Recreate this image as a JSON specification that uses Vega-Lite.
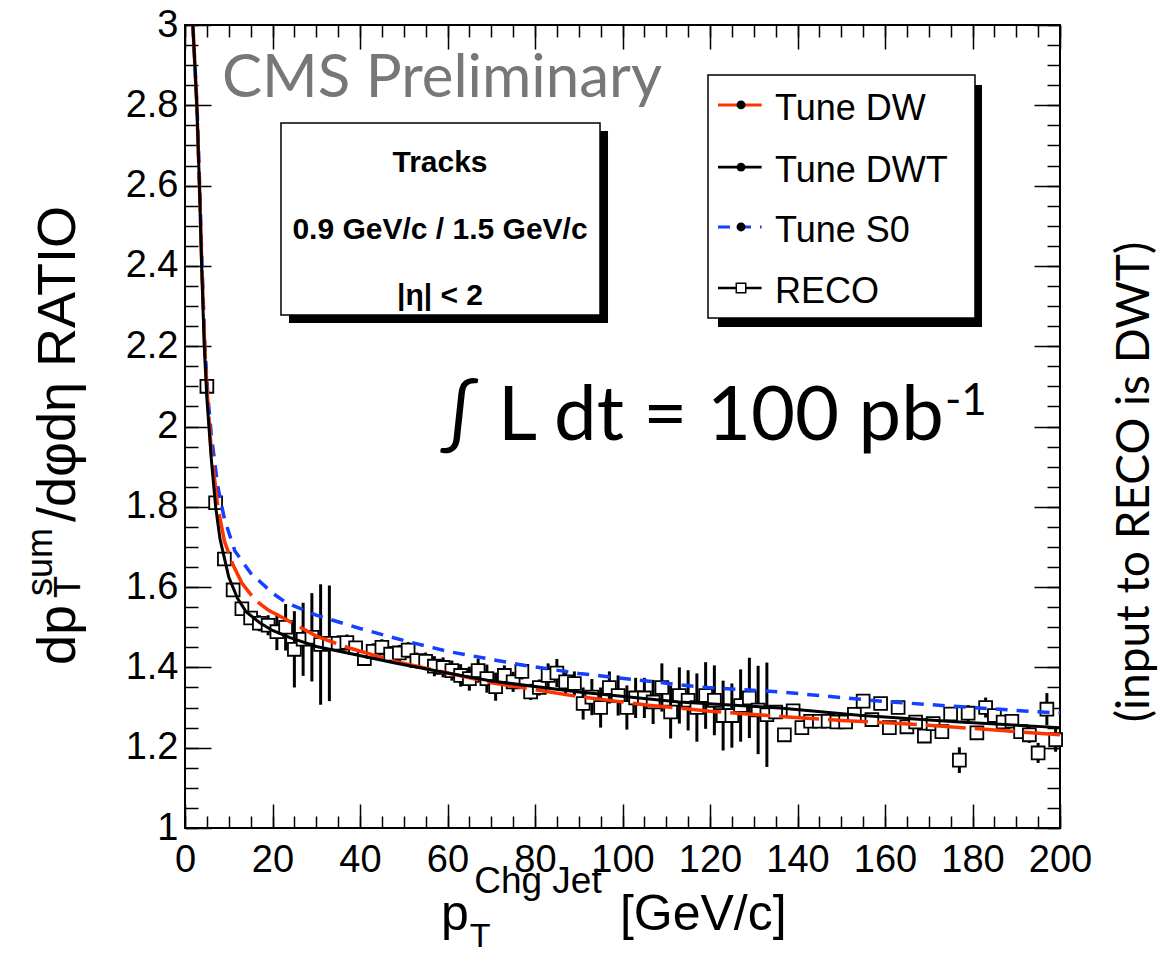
{
  "$schema": "https://vega.github.io/schema/vega-lite/v6.json",
  "width": 875,
  "height": 803,
  "autosize": {"type": "none"},
  "padding": {"left": 185, "top": 25, "right": 108, "bottom": 125},
  "background": "white",
  "config": {
    "view": {"stroke": "black", "strokeWidth": 2},
    "axis": {"grid": false, "domain": false, "tickColor": "black", "tickWidth": 1.5, "labelFont": "Liberation Sans", "labelFontSize": 38, "labelColor": "black", "title": null}
  },
  "datasets": {
    "one": [{}],
    "reco": [
      {"x":5,"y":2.10,"lo":2.09,"hi":2.11},{"x":7,"y":1.81,"lo":1.80,"hi":1.82},{"x":9,"y":1.67,"lo":1.66,"hi":1.68},
      {"x":11,"y":1.593,"lo":1.581,"hi":1.605},{"x":13,"y":1.546,"lo":1.531,"hi":1.561},{"x":15,"y":1.523,"lo":1.508,"hi":1.538},
      {"x":17,"y":1.51,"lo":1.49,"hi":1.53},{"x":19,"y":1.505,"lo":1.48,"hi":1.53},{"x":21,"y":1.489,"lo":1.443,"hi":1.535},
      {"x":23,"y":1.50,"lo":1.442,"hi":1.558},{"x":25,"y":1.445,"lo":1.35,"hi":1.54},{"x":27,"y":1.47,"lo":1.379,"hi":1.561},
      {"x":29,"y":1.475,"lo":1.365,"hi":1.585},{"x":31,"y":1.457,"lo":1.307,"hi":1.607},{"x":33,"y":1.46,"lo":1.316,"hi":1.604},
      {"x":35,"y":1.46,"lo":1.44,"hi":1.48},{"x":37,"y":1.462,"lo":1.442,"hi":1.482},{"x":39,"y":1.449,"lo":1.434,"hi":1.464},
      {"x":41,"y":1.422,"lo":1.407,"hi":1.437},{"x":43,"y":1.44,"lo":1.42,"hi":1.46},{"x":45,"y":1.45,"lo":1.43,"hi":1.47},
      {"x":47,"y":1.433,"lo":1.413,"hi":1.453},{"x":49,"y":1.436,"lo":1.416,"hi":1.456},{"x":51,"y":1.443,"lo":1.423,"hi":1.463},
      {"x":53,"y":1.417,"lo":1.397,"hi":1.437},{"x":55,"y":1.415,"lo":1.393,"hi":1.437},{"x":57,"y":1.403,"lo":1.378,"hi":1.428},
      {"x":59,"y":1.40,"lo":1.375,"hi":1.425},{"x":61,"y":1.392,"lo":1.367,"hi":1.417},{"x":63,"y":1.38,"lo":1.352,"hi":1.408},
      {"x":65,"y":1.372,"lo":1.342,"hi":1.402},{"x":67,"y":1.392,"lo":1.362,"hi":1.422},{"x":69,"y":1.372,"lo":1.337,"hi":1.407},
      {"x":71,"y":1.352,"lo":1.317,"hi":1.387},{"x":73,"y":1.38,"lo":1.355,"hi":1.405},{"x":75,"y":1.364,"lo":1.339,"hi":1.389},
      {"x":77,"y":1.39,"lo":1.37,"hi":1.41},{"x":79,"y":1.339,"lo":1.319,"hi":1.359},{"x":81,"y":1.35,"lo":1.33,"hi":1.37},
      {"x":83,"y":1.38,"lo":1.35,"hi":1.41},{"x":85,"y":1.386,"lo":1.351,"hi":1.421},{"x":87,"y":1.364,"lo":1.334,"hi":1.394},
      {"x":89,"y":1.36,"lo":1.33,"hi":1.39},{"x":91,"y":1.31,"lo":1.27,"hi":1.35},{"x":93,"y":1.326,"lo":1.281,"hi":1.371},
      {"x":95,"y":1.30,"lo":1.25,"hi":1.35},{"x":97,"y":1.35,"lo":1.31,"hi":1.39},{"x":99,"y":1.33,"lo":1.28,"hi":1.38},
      {"x":101,"y":1.30,"lo":1.245,"hi":1.355},{"x":103,"y":1.324,"lo":1.274,"hi":1.374},{"x":105,"y":1.324,"lo":1.274,"hi":1.374},
      {"x":107,"y":1.314,"lo":1.259,"hi":1.369},{"x":109,"y":1.35,"lo":1.29,"hi":1.41},{"x":111,"y":1.289,"lo":1.223,"hi":1.355},
      {"x":113,"y":1.33,"lo":1.26,"hi":1.40},{"x":115,"y":1.318,"lo":1.243,"hi":1.393},{"x":117,"y":1.30,"lo":1.215,"hi":1.385},
      {"x":119,"y":1.33,"lo":1.247,"hi":1.413},{"x":121,"y":1.318,"lo":1.231,"hi":1.405},{"x":123,"y":1.28,"lo":1.193,"hi":1.367},
      {"x":125,"y":1.28,"lo":1.20,"hi":1.36},{"x":127,"y":1.305,"lo":1.215,"hi":1.395},{"x":129,"y":1.324,"lo":1.224,"hi":1.424},
      {"x":131,"y":1.294,"lo":1.184,"hi":1.404},{"x":133,"y":1.282,"lo":1.152,"hi":1.412},{"x":135,"y":1.289,"lo":1.274,"hi":1.304},
      {"x":137,"y":1.232,"lo":1.222,"hi":1.242},{"x":139,"y":1.292,"lo":1.282,"hi":1.302},{"x":141,"y":1.25,"lo":1.24,"hi":1.26},
      {"x":143,"y":1.266,"lo":1.256,"hi":1.276},{"x":145,"y":1.266,"lo":1.256,"hi":1.276},{"x":147,"y":1.266,"lo":1.256,"hi":1.276},
      {"x":149,"y":1.264,"lo":1.254,"hi":1.274},{"x":151,"y":1.264,"lo":1.254,"hi":1.274},{"x":153,"y":1.283,"lo":1.271,"hi":1.295},
      {"x":155,"y":1.316,"lo":1.301,"hi":1.331},{"x":157,"y":1.27,"lo":1.258,"hi":1.282},{"x":159,"y":1.31,"lo":1.298,"hi":1.322},
      {"x":161,"y":1.25,"lo":1.238,"hi":1.262},{"x":163,"y":1.30,"lo":1.288,"hi":1.312},{"x":165,"y":1.252,"lo":1.237,"hi":1.267},
      {"x":167,"y":1.264,"lo":1.249,"hi":1.279},{"x":169,"y":1.229,"lo":1.214,"hi":1.244},{"x":171,"y":1.26,"lo":1.245,"hi":1.275},
      {"x":173,"y":1.24,"lo":1.225,"hi":1.255},{"x":175,"y":1.284,"lo":1.269,"hi":1.299},{"x":177,"y":1.169,"lo":1.137,"hi":1.201},
      {"x":179,"y":1.286,"lo":1.266,"hi":1.306},{"x":181,"y":1.237,"lo":1.222,"hi":1.252},{"x":183,"y":1.30,"lo":1.275,"hi":1.325},
      {"x":185,"y":1.28,"lo":1.265,"hi":1.295},{"x":187,"y":1.264,"lo":1.249,"hi":1.279},{"x":189,"y":1.266,"lo":1.251,"hi":1.281},
      {"x":191,"y":1.24,"lo":1.225,"hi":1.255},{"x":193,"y":1.232,"lo":1.212,"hi":1.252},{"x":195,"y":1.187,"lo":1.162,"hi":1.212},
      {"x":197,"y":1.296,"lo":1.256,"hi":1.336},{"x":199,"y":1.22,"lo":1.19,"hi":1.25}
    ],
    "dwt": [
      {"x":1.8,"y":3.0},{"x":2.7,"y":2.8},{"x":3.3,"y":2.6},{"x":3.8,"y":2.4},{"x":4.4,"y":2.2},{"x":5,"y":2.07},{"x":6,"y":1.92},
      {"x":7,"y":1.8},{"x":8,"y":1.72},{"x":10,"y":1.625},{"x":12,"y":1.572},{"x":14,"y":1.538},{"x":17,"y":1.512},{"x":20,"y":1.492},
      {"x":24,"y":1.474},{"x":30,"y":1.452},{"x":38,"y":1.434},{"x":48,"y":1.411},{"x":60,"y":1.386},{"x":70,"y":1.366},{"x":90,"y":1.339},
      {"x":113,"y":1.314},{"x":136,"y":1.299},{"x":154,"y":1.281},{"x":177,"y":1.264},{"x":200,"y":1.25}
    ],
    "dw": [
      {"x":1.8,"y":3.0},{"x":2.7,"y":2.8},{"x":3.3,"y":2.6},{"x":3.85,"y":2.4},{"x":4.5,"y":2.2},{"x":5.1,"y":2.08},{"x":6,"y":1.94},
      {"x":7.5,"y":1.8},{"x":9,"y":1.715},{"x":11,"y":1.655},{"x":13,"y":1.61},{"x":16,"y":1.568},{"x":19,"y":1.543},{"x":23,"y":1.52},
      {"x":30,"y":1.478},{"x":34,"y":1.462},{"x":38,"y":1.447},{"x":48,"y":1.415},{"x":60,"y":1.386},{"x":70,"y":1.362},{"x":90,"y":1.327},
      {"x":106,"y":1.306},{"x":120,"y":1.291},{"x":136,"y":1.278},{"x":150,"y":1.268},{"x":170,"y":1.256},{"x":200,"y":1.232}
    ],
    "s0": [
      {"x":1.8,"y":3.0},{"x":2.75,"y":2.8},{"x":3.35,"y":2.6},{"x":3.9,"y":2.4},{"x":4.55,"y":2.2},{"x":5.2,"y":2.08},{"x":6,"y":1.98},
      {"x":7.5,"y":1.85},{"x":9,"y":1.77},{"x":11.4,"y":1.69},{"x":15,"y":1.635},{"x":20,"y":1.585},{"x":23,"y":1.562},{"x":30,"y":1.53},
      {"x":40,"y":1.497},{"x":50,"y":1.467},{"x":60,"y":1.44},{"x":71,"y":1.418},{"x":77,"y":1.406},{"x":90,"y":1.385},{"x":99,"y":1.374},
      {"x":118,"y":1.351},{"x":136,"y":1.339},{"x":160,"y":1.315},{"x":180,"y":1.30},{"x":200,"y":1.286}
    ]
  },
  "layer": [
    {
      "data": {"name": "reco"},
      "mark": {"type": "rule", "color": "black", "strokeWidth": 3},
      "encoding": {
        "x": {"field": "x", "type": "quantitative", "scale": {"domain": [0, 200], "nice": false, "zero": false},
              "axis": {"orient": "bottom", "values": [0,20,40,60,80,100,120,140,160,180,200], "tickSize": -24, "labelPadding": 37, "labelFlush": false}},
        "y": {"field": "lo", "type": "quantitative", "scale": {"domain": [1, 3], "nice": false, "zero": false},
              "axis": {"orient": "left", "values": [1,1.2,1.4,1.6,1.8,2,2.2,2.4,2.6,2.8,3], "tickSize": -26, "labelPadding": 33, "format": "~g", "labelFlush": false}},
        "y2": {"field": "hi"}
      }
    },
    {
      "data": {"name": "reco"},
      "mark": {"type": "point", "shape": "square", "size": 165, "filled": true, "fill": "white", "stroke": "black", "strokeWidth": 1.8, "opacity": 1},
      "encoding": {
        "x": {"field": "x", "type": "quantitative",
              "axis": {"orient": "bottom", "values": [0,5,10,15,20,25,30,35,40,45,50,55,60,65,70,75,80,85,90,95,100,105,110,115,120,125,130,135,140,145,150,155,160,165,170,175,180,185,190,195,200], "tickSize": -12, "labels": false}},
        "y": {"field": "y", "type": "quantitative",
              "axis": {"orient": "left", "values": [1,1.05,1.1,1.15,1.2,1.25,1.3,1.35,1.4,1.45,1.5,1.55,1.6,1.65,1.7,1.75,1.8,1.85,1.9,1.95,2,2.05,2.1,2.15,2.2,2.25,2.3,2.35,2.4,2.45,2.5,2.55,2.6,2.65,2.7,2.75,2.8,2.85,2.9,2.95,3], "tickSize": -13, "labels": false}}
      }
    },
    {
      "data": {"name": "s0"},
      "mark": {"type": "line", "color": "#1440ff", "strokeWidth": 3.5, "strokeDash": [12, 9]},
      "encoding": {
        "x": {"field": "x", "type": "quantitative",
              "axis": {"orient": "top", "values": [0,20,40,60,80,100,120,140,160,180,200], "tickSize": -24, "labels": false}},
        "y": {"field": "y", "type": "quantitative",
              "axis": {"orient": "right", "values": [1,1.2,1.4,1.6,1.8,2,2.2,2.4,2.6,2.8,3], "tickSize": -26, "labels": false}}
      }
    },
    {
      "data": {"name": "dw"},
      "mark": {"type": "line", "color": "#ff3300", "strokeWidth": 3.5, "strokeDash": [40, 9]},
      "encoding": {
        "x": {"field": "x", "type": "quantitative",
              "axis": {"orient": "top", "values": [0,5,10,15,20,25,30,35,40,45,50,55,60,65,70,75,80,85,90,95,100,105,110,115,120,125,130,135,140,145,150,155,160,165,170,175,180,185,190,195,200], "tickSize": -12, "labels": false}},
        "y": {"field": "y", "type": "quantitative",
              "axis": {"orient": "right", "values": [1,1.05,1.1,1.15,1.2,1.25,1.3,1.35,1.4,1.45,1.5,1.55,1.6,1.65,1.7,1.75,1.8,1.85,1.9,1.95,2,2.05,2.1,2.15,2.2,2.25,2.3,2.35,2.4,2.45,2.5,2.55,2.6,2.65,2.7,2.75,2.8,2.85,2.9,2.95,3], "tickSize": -13, "labels": false}}
      }
    },
    {
      "data": {"name": "dwt"},
      "mark": {"type": "line", "color": "black", "strokeWidth": 3},
      "encoding": {
        "x": {"field": "x", "type": "quantitative", "axis": null},
        "y": {"field": "y", "type": "quantitative", "axis": null}
      }
    },
    {
      "data": {"name": "one"},
      "mark": {"type": "text", "text": "CMS Preliminary", "font": "Lato", "fontSize": 60, "color": "#777777", "align": "left", "baseline": "alphabetic"},
      "encoding": {"x": {"datum": 8.46, "axis": null}, "y": {"datum": 2.8207, "axis": null}}
    },
    {
      "data": {"name": "one"},
      "mark": {"type": "rect", "color": "black"},
      "encoding": {"x": {"datum": 23.77, "axis": null}, "x2": {"datum": 96.69}, "y": {"datum": 2.736, "axis": null}, "y2": {"datum": 2.2578}}
    },
    {
      "data": {"name": "one"},
      "mark": {"type": "rect", "fill": "white", "stroke": "black", "strokeWidth": 1.5},
      "encoding": {"x": {"datum": 21.94, "axis": null}, "x2": {"datum": 94.86}, "y": {"datum": 2.7559, "axis": null}, "y2": {"datum": 2.2777}}
    },
    {
      "data": {"name": "one"},
      "mark": {"type": "text", "text": "Tracks", "font": "Liberation Sans", "fontWeight": "bold", "fontSize": 30, "color": "black", "align": "center", "baseline": "middle"},
      "encoding": {"x": {"datum": 58.29, "axis": null}, "y": {"datum": 2.6563, "axis": null}}
    },
    {
      "data": {"name": "one"},
      "mark": {"type": "text", "text": "0.9 GeV/c / 1.5 GeV/c", "font": "Liberation Sans", "fontWeight": "bold", "fontSize": 30, "color": "black", "align": "center", "baseline": "middle"},
      "encoding": {"x": {"datum": 58.29, "axis": null}, "y": {"datum": 2.4894, "axis": null}}
    },
    {
      "data": {"name": "one"},
      "mark": {"type": "text", "text": "|η| < 2", "font": "Liberation Sans", "fontWeight": "bold", "fontSize": 30, "color": "black", "align": "center", "baseline": "middle"},
      "encoding": {"x": {"datum": 58.29, "axis": null}, "y": {"datum": 2.325, "axis": null}}
    },
    {
      "data": {"name": "one"},
      "mark": {"type": "rect", "color": "black"},
      "encoding": {"x": {"datum": 121.83, "axis": null}, "x2": {"datum": 182.17}, "y": {"datum": 2.8506, "axis": null}, "y2": {"datum": 2.2478}}
    },
    {
      "data": {"name": "one"},
      "mark": {"type": "rect", "fill": "white", "stroke": "black", "strokeWidth": 1.5},
      "encoding": {"x": {"datum": 119.54, "axis": null}, "x2": {"datum": 180.57}, "y": {"datum": 2.8755, "axis": null}, "y2": {"datum": 2.2702}}
    },
    {
      "data": {"name": "one"},
      "mark": {"type": "rule", "color": "#ff3300", "strokeWidth": 3},
      "encoding": {"x": {"datum": 121.83, "axis": null}, "x2": {"datum": 131.8}, "y": {"datum": 2.801, "axis": null}}
    },
    {
      "data": {"name": "one"},
      "mark": {"type": "rule", "color": "black", "strokeWidth": 2.6},
      "encoding": {"x": {"datum": 121.83, "axis": null}, "x2": {"datum": 131.8}, "y": {"datum": 2.646, "axis": null}}
    },
    {
      "data": {"name": "one"},
      "mark": {"type": "rule", "color": "#1440ff", "strokeWidth": 3, "strokeDash": [12, 9]},
      "encoding": {"x": {"datum": 121.83, "axis": null}, "x2": {"datum": 131.8}, "y": {"datum": 2.497, "axis": null}}
    },
    {
      "data": {"name": "one"},
      "mark": {"type": "rule", "color": "black", "strokeWidth": 2.6},
      "encoding": {"x": {"datum": 121.83, "axis": null}, "x2": {"datum": 131.8}, "y": {"datum": 2.345, "axis": null}}
    },
    {
      "data": {"name": "one"},
      "mark": {"type": "point", "shape": "circle", "size": 80, "filled": true, "color": "black", "opacity": 1},
      "encoding": {"x": {"datum": 127.09, "axis": null}, "y": {"datum": 2.801, "axis": null}}
    },
    {
      "data": {"name": "one"},
      "mark": {"type": "point", "shape": "circle", "size": 80, "filled": true, "color": "black", "opacity": 1},
      "encoding": {"x": {"datum": 127.09, "axis": null}, "y": {"datum": 2.646, "axis": null}}
    },
    {
      "data": {"name": "one"},
      "mark": {"type": "point", "shape": "circle", "size": 80, "filled": true, "color": "black", "opacity": 1},
      "encoding": {"x": {"datum": 127.09, "axis": null}, "y": {"datum": 2.497, "axis": null}}
    },
    {
      "data": {"name": "one"},
      "mark": {"type": "point", "shape": "square", "size": 90, "filled": true, "fill": "white", "stroke": "black", "strokeWidth": 1.5, "opacity": 1},
      "encoding": {"x": {"datum": 127.09, "axis": null}, "y": {"datum": 2.345, "axis": null}}
    },
    {
      "data": {"name": "one"},
      "mark": {"type": "text", "text": "Tune DW", "font": "Liberation Sans", "fontSize": 36, "color": "black", "align": "left", "baseline": "middle", "dy": 4},
      "encoding": {"x": {"datum": 134.86, "axis": null}, "y": {"datum": 2.801, "axis": null}}
    },
    {
      "data": {"name": "one"},
      "mark": {"type": "text", "text": "Tune DWT", "font": "Liberation Sans", "fontSize": 36, "color": "black", "align": "left", "baseline": "middle", "dy": 4},
      "encoding": {"x": {"datum": 134.86, "axis": null}, "y": {"datum": 2.646, "axis": null}}
    },
    {
      "data": {"name": "one"},
      "mark": {"type": "text", "text": "Tune S0", "font": "Liberation Sans", "fontSize": 36, "color": "black", "align": "left", "baseline": "middle", "dy": 4},
      "encoding": {"x": {"datum": 134.86, "axis": null}, "y": {"datum": 2.497, "axis": null}}
    },
    {
      "data": {"name": "one"},
      "mark": {"type": "text", "text": "RECO", "font": "Liberation Sans", "fontSize": 36, "color": "black", "align": "left", "baseline": "middle", "dy": 4},
      "encoding": {"x": {"datum": 134.86, "axis": null}, "y": {"datum": 2.345, "axis": null}}
    },
    {
      "data": {"name": "one"},
      "mark": {"type": "text", "text": "∫ L dt = 100 pb", "font": "Lato", "fontSize": 76, "color": "black", "align": "left", "baseline": "alphabetic"},
      "encoding": {"x": {"datum": 58.29, "axis": null}, "y": {"datum": 1.9664, "axis": null}}
    },
    {
      "data": {"name": "one"},
      "mark": {"type": "text", "text": "-1", "font": "Lato", "fontSize": 44, "color": "black", "align": "left", "baseline": "alphabetic"},
      "encoding": {"x": {"datum": 173.7, "axis": null}, "y": {"datum": 2.0286, "axis": null}}
    },
    {
      "data": {"name": "one"},
      "mark": {"type": "text", "text": "(input to RECO is DWT)", "font": "Lato", "fontSize": 46, "color": "black", "align": "center", "baseline": "middle", "angle": 270},
      "encoding": {"x": {"datum": 217.14, "axis": null}, "y": {"datum": 1.8618, "axis": null}}
    },
    {
      "data": {"name": "one"},
      "mark": {"type": "text", "text": "p", "font": "Liberation Sans", "fontSize": 50, "color": "black", "align": "left", "baseline": "alphabetic"},
      "encoding": {"x": {"datum": 58.5, "axis": null}, "y": {"datum": 0.745, "axis": null}}
    },
    {
      "data": {"name": "one"},
      "mark": {"type": "text", "text": "T", "font": "Liberation Sans", "fontSize": 34, "color": "black", "align": "left", "baseline": "alphabetic"},
      "encoding": {"x": {"datum": 65.1, "axis": null}, "y": {"datum": 0.703, "axis": null}}
    },
    {
      "data": {"name": "one"},
      "mark": {"type": "text", "text": "Chg Jet", "font": "Liberation Sans", "fontSize": 37, "color": "black", "align": "left", "baseline": "alphabetic"},
      "encoding": {"x": {"datum": 66.1, "axis": null}, "y": {"datum": 0.838, "axis": null}}
    },
    {
      "data": {"name": "one"},
      "mark": {"type": "text", "text": "[GeV/c]", "font": "Liberation Sans", "fontSize": 50, "color": "black", "align": "left", "baseline": "alphabetic"},
      "encoding": {"x": {"datum": 99.4, "axis": null}, "y": {"datum": 0.745, "axis": null}}
    },
    {
      "data": {"name": "one"},
      "mark": {"type": "text", "text": "dp", "font": "Liberation Sans", "fontSize": 54, "color": "black", "align": "left", "baseline": "alphabetic", "angle": 270},
      "encoding": {"x": {"datum": -25.14, "axis": null}, "y": {"datum": 1.406, "axis": null}}
    },
    {
      "data": {"name": "one"},
      "mark": {"type": "text", "text": "T", "font": "Liberation Sans", "fontSize": 36, "color": "black", "align": "left", "baseline": "alphabetic", "angle": 270},
      "encoding": {"x": {"datum": -24.0, "axis": null}, "y": {"datum": 1.573, "axis": null}}
    },
    {
      "data": {"name": "one"},
      "mark": {"type": "text", "text": "sum", "font": "Liberation Sans", "fontSize": 36, "color": "black", "align": "left", "baseline": "alphabetic", "angle": 270},
      "encoding": {"x": {"datum": -30.4, "axis": null}, "y": {"datum": 1.578, "axis": null}}
    },
    {
      "data": {"name": "one"},
      "mark": {"type": "text", "text": "/dφdη RATIO", "font": "Liberation Sans", "fontSize": 54, "color": "black", "align": "left", "baseline": "alphabetic", "angle": 270},
      "encoding": {"x": {"datum": -25.14, "axis": null}, "y": {"datum": 1.762, "axis": null}}
    }
  ],
  "resolve": {"axis": {"x": "independent", "y": "independent"}}
}
